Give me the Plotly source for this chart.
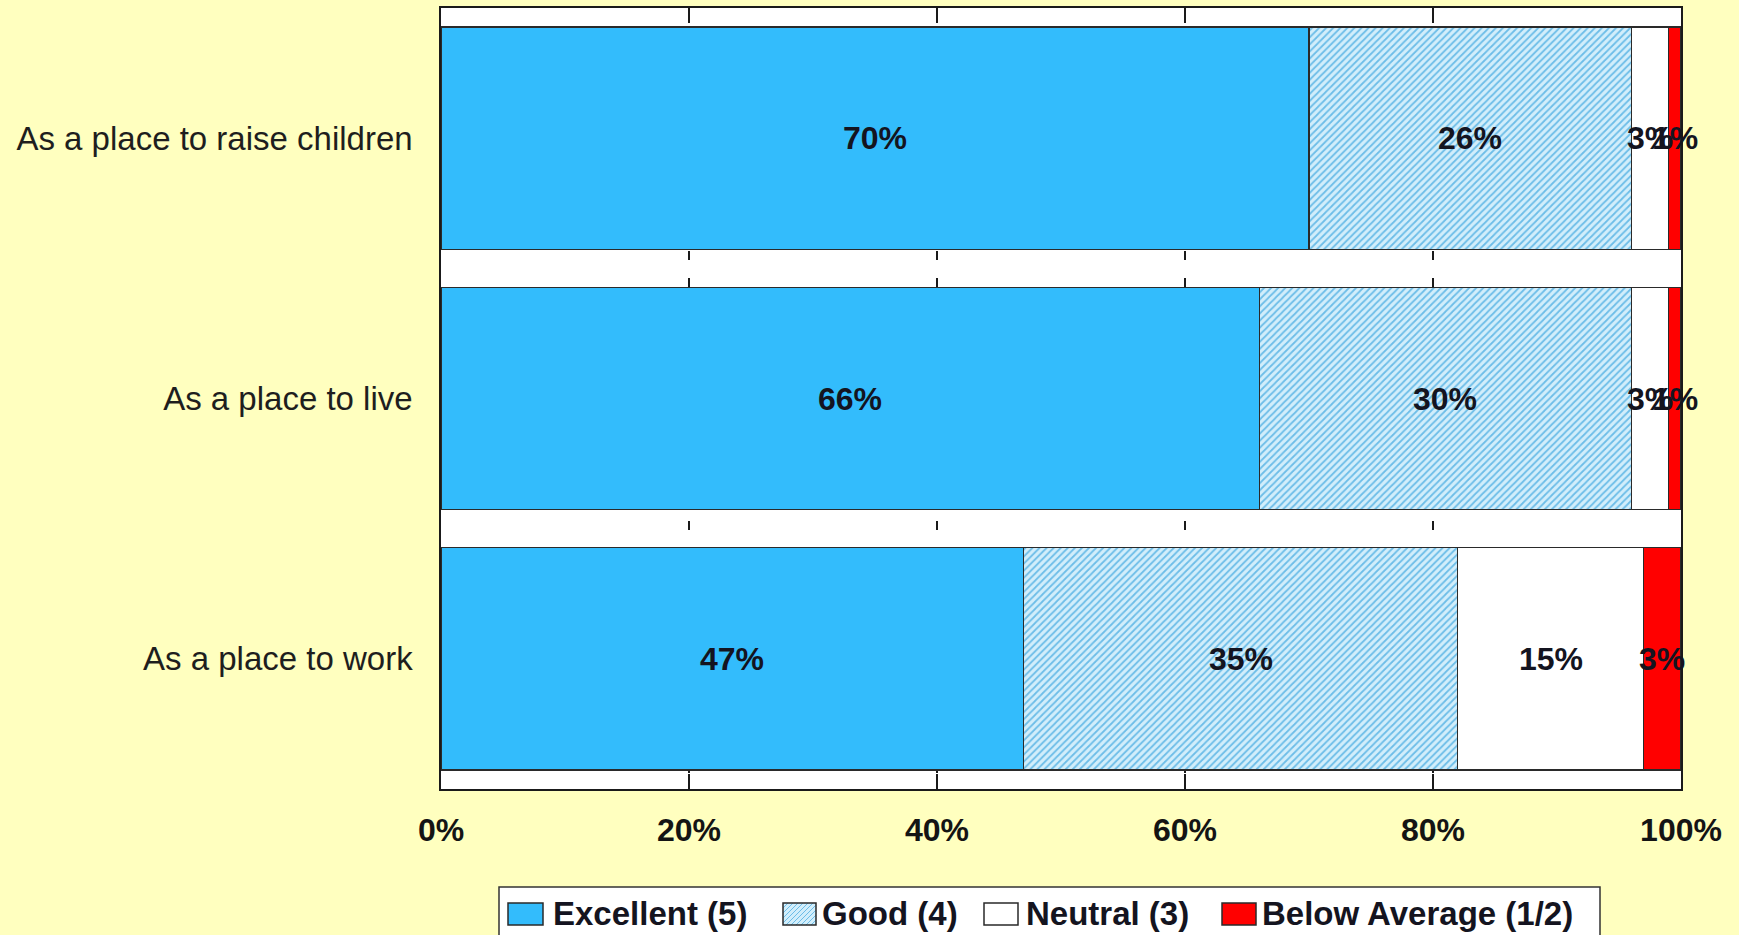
import plotly.graph_objects as go

# Survey ratings, percent of respondents
categories = ["As a place to raise children", "As a place to live", "As a place to work"]
series_names = ["Excellent (5)", "Good (4)", "Neutral (3)", "Below Average (1/2)"]
excellent = [70, 66, 47]
good = [26, 30, 35]
neutral = [3, 3, 15]
below_average = [1, 1, 3]
x_ticks = [0, 20, 40, 60, 80, 100]
x_tick_labels = ["0%", "20%", "40%", "60%", "80%", "100%"]

series_values = [excellent, good, neutral, below_average]
fills = ["#33BCFC", "#D2EEFB", "#FFFFFF", "#FF0000"]
HATCH_BG, HATCH_FG = "#D2EEFB", "#6CBDE8"
OUTLINE = "#2A2A2A"

FONT = "Liberation Sans, Arial, sans-serif"
W, H = 1739, 935
M_L, M_R, M_T, M_B = 441, 58, 8, 146
PLOT_W, PLOT_H = W - M_L - M_R, H - M_T - M_B


def px_x(px):
    """Figure pixel column -> paper x."""
    return (px - M_L) / PLOT_W


def px_y(py):
    """Figure pixel row (from top) -> paper y."""
    return (H - M_B - py) / PLOT_H


fig = go.Figure()
for name, vals, fill in zip(series_names, series_values, fills):
    marker = dict(color=fill, line=dict(color=OUTLINE, width=1.3))
    if name.startswith("Good"):
        marker["pattern"] = dict(shape="/", fgcolor=HATCH_FG, bgcolor=HATCH_BG,
                                 size=5, solidity=0.35, fillmode="replace")
    fig.add_trace(go.Bar(
        name=name, y=categories, x=vals, orientation="h",
        marker=marker, hoverinfo="x+name", showlegend=False,
    ))

# Segment labels centred on each stacked piece
annotations = []
for ci, cat in enumerate(categories):
    start = 0
    for vals in series_values:
        v = vals[ci]
        annotations.append(dict(
            x=start + v / 2, y=cat, xref="x", yref="y", text=f"{v}%",
            showarrow=False, font=dict(family=FONT, size=32, color="#141420", weight="bold"),
        ))
        start += v

# Legend box drawn along the bottom edge
shapes = [dict(type="rect", xref="paper", yref="paper",
               x0=px_x(499), x1=px_x(1600), y0=px_y(887), y1=px_y(965),
               fillcolor="#FFFFFF", line=dict(color="#333333", width=1.5))]
key_boxes = [(508, 543), (783, 816), (984, 1018), (1222, 1256)]
text_left = [551, 820, 1024, 1260]
key_top, key_bot = 903, 925
for (kx0, kx1), name, fill, tx in zip(key_boxes, series_names, fills, text_left):
    shapes.append(dict(type="rect", xref="paper", yref="paper",
                       x0=px_x(kx0), x1=px_x(kx1), y0=px_y(key_bot), y1=px_y(key_top),
                       fillcolor=fill, line=dict(width=0)))
    if name.startswith("Good"):
        # diagonal hatching inside the key swatch
        kw, kh, step = kx1 - kx0, key_bot - key_top, 5
        for c in range(-kh, kw, step):
            u0, u1 = max(0, c), min(kw, kh + c)
            if u1 <= u0:
                continue
            shapes.append(dict(type="line", xref="paper", yref="paper",
                               x0=px_x(kx0 + u0), y0=px_y(key_bot - (u0 - c)),
                               x1=px_x(kx0 + u1), y1=px_y(key_bot - (u1 - c)),
                               line=dict(color=HATCH_FG, width=1)))
    shapes.append(dict(type="rect", xref="paper", yref="paper",
                       x0=px_x(kx0), x1=px_x(kx1), y0=px_y(key_bot), y1=px_y(key_top),
                       fillcolor="rgba(0,0,0,0)", line=dict(color=OUTLINE, width=1.5)))
    annotations.append(dict(
        x=px_x(tx), y=px_y((key_top + key_bot) / 2), xref="paper", yref="paper",
        xanchor="left", yanchor="middle", text=name, showarrow=False,
        font=dict(family=FONT, size=33, color="#141420", weight="bold"),
    ))

fig.update_layout(
    barmode="stack",
    bargap=0.146,
    width=W, height=H,
    paper_bgcolor="#FFFFBF",
    plot_bgcolor="#FFFFFF",
    margin=dict(l=M_L, r=M_R, t=M_T, b=M_B, autoexpand=False),
    font=dict(family=FONT, color="#1A1A1A"),
    annotations=annotations,
    shapes=shapes,
    showlegend=False,
)
fig.update_xaxes(
    range=[0, 100], tickvals=x_ticks, ticktext=x_tick_labels,
    showline=True, linecolor="#1A1A1A", linewidth=1.5, mirror="ticks",
    ticks="inside", ticklen=15, tickwidth=1.5, tickcolor="#1A1A1A",
    showgrid=True, gridcolor="#1A1A1A", gridwidth=1.5, griddash="9px,18px",
    zeroline=False, ticklabelstandoff=12,
    tickfont=dict(family=FONT, size=32, color="#141414", weight="bold"),
)
fig.update_yaxes(
    categoryorder="array", categoryarray=categories, autorange="reversed",
    showline=True, linecolor="#1A1A1A", linewidth=1.5, mirror=True,
    ticks="", ticklabelstandoff=20,
    tickfont=dict(family=FONT, size=33, color="#1E1E1E"),
)

fig.write_html("out.html")
